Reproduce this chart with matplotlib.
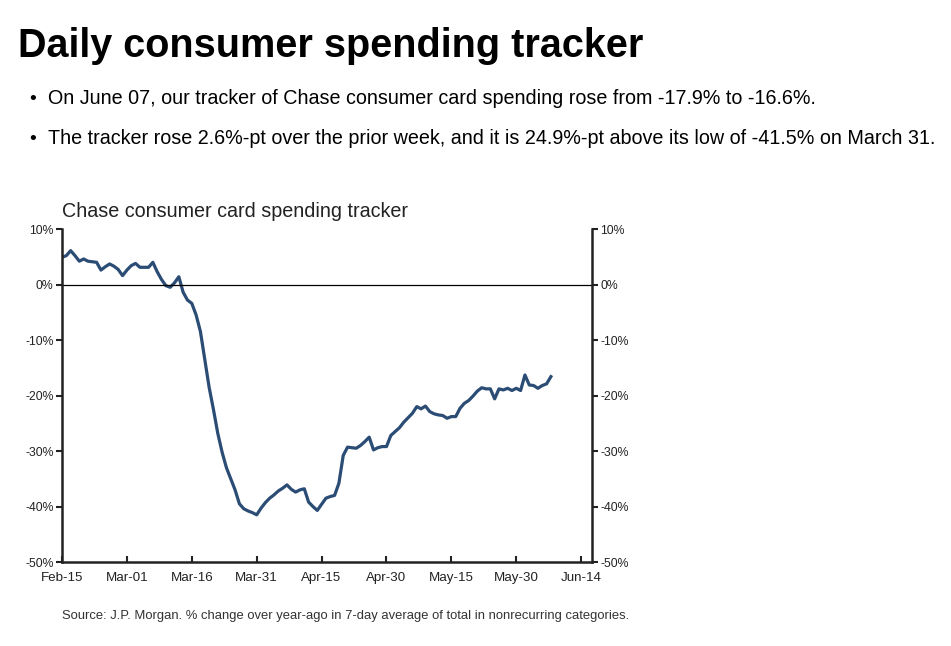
import pandas as pd
import matplotlib
matplotlib.use('Agg')
import matplotlib.pyplot as plt
import matplotlib.dates as mdates
from matplotlib.ticker import FuncFormatter

# daily values, Feb-15 .. Jun-07 2020
start = '2020-02-15'
tracker = [
    4.9, 5.2, 6.1, 5.2, 4.2, 4.6, 4.2, 4.1, 4.0, 2.6,
    3.2, 3.7, 3.3, 2.7, 1.6, 2.6, 3.4, 3.8, 3.1, 3.1,
    3.1, 4.0, 2.3, 0.9, -0.2, -0.5, 0.3, 1.4, -1.4, -2.8,
    -3.4, -5.5, -8.5, -13.5, -18.5, -22.5, -26.8, -30.2, -33.0, -35.0,
    -37.0, -39.5, -40.4, -40.8, -41.1, -41.5, -40.3, -39.3, -38.5, -37.9,
    -37.2, -36.7, -36.1, -36.9, -37.4, -37.0, -36.8, -39.2, -40.0, -40.7,
    -39.6, -38.5, -38.2, -38.0, -35.8, -30.8, -29.3, -29.4, -29.5, -29.0,
    -28.3, -27.5, -29.8, -29.4, -29.2, -29.2, -27.2, -26.5, -25.8, -24.8,
    -24.0, -23.2, -22.0, -22.4, -21.9, -22.9, -23.3, -23.5, -23.6, -24.1,
    -23.8, -23.8, -22.3, -21.4, -20.9, -20.1, -19.2, -18.6, -18.8, -18.8,
    -20.6, -18.8, -19.0, -18.7, -19.1, -18.7, -19.1, -16.3, -18.1, -18.2,
    -18.7, -18.2, -17.9, -16.6,
]
dates = pd.date_range(start, periods=len(tracker), freq='D')
tick_dates = pd.date_range('2020-02-15', '2020-06-14', freq='15D')
y_ticks = [10, 0, -10, -20, -30, -40, -50]

title = 'Daily consumer spending tracker'
bullets = [
    'On June 07, our tracker of Chase consumer card spending rose from -17.9% to -16.6%.',
    'The tracker rose 2.6%-pt over the prior week, and it is 24.9%-pt above its low of -41.5% on March 31.',
]
chart_title = 'Chase consumer card spending tracker'
source = 'Source: J.P. Morgan. % change over year-ago in 7-day average of total in nonrecurring categories.'

plt.rcParams['font.family'] = ['Liberation Sans', 'DejaVu Sans']

fig = plt.figure(figsize=(9.51, 6.46), dpi=100)
ax = fig.add_axes([0.0652, 0.130, 0.5573, 0.5155])

ax.plot(dates, tracker, color='#2b4c74', lw=2.3)
ax.axhline(0, color='black', lw=0.9)

ax.set_ylim(-50, 10)
ax.set_yticks(y_ticks)
ax.yaxis.set_major_formatter(FuncFormatter(lambda v, p: f'{v:.0f}%'))
ax.set_xlim(pd.Timestamp('2020-02-15'), pd.Timestamp('2020-06-16 12:00'))
ax.set_xticks(tick_dates)
ax.xaxis.set_major_formatter(mdates.DateFormatter('%b-%d'))

ax.spines['top'].set_visible(False)
for s in ['left', 'right', 'bottom']:
    ax.spines[s].set_linewidth(1.8)
    ax.spines[s].set_color('#222222')
ax.yaxis.set_ticks_position('both')
ax.tick_params(axis='y', direction='out', length=4, width=1.5, labelsize=8.8,
               labelleft=True, labelright=True, pad=2, colors='#222222')
ax.tick_params(axis='x', direction='in', length=4, width=1.5, labelsize=9.6,
               pad=7, colors='#222222')

# header text
fig.text(0.019, 0.912, title, fontsize=28.5, fontweight='bold', va='baseline')
for i, b in enumerate(bullets):
    yy = 0.839 - i * 0.062
    fig.text(0.031, yy, '•', fontsize=14, va='baseline')
    fig.text(0.050, yy, b, fontsize=14.2, va='baseline')

fig.text(0.0652, 0.664, chart_title, fontsize=14.2, color='#222222', va='baseline')
fig.text(0.0652, 0.042, source, fontsize=9.4, color='#333333', va='baseline')

fig.savefig('out.png', dpi=100)
